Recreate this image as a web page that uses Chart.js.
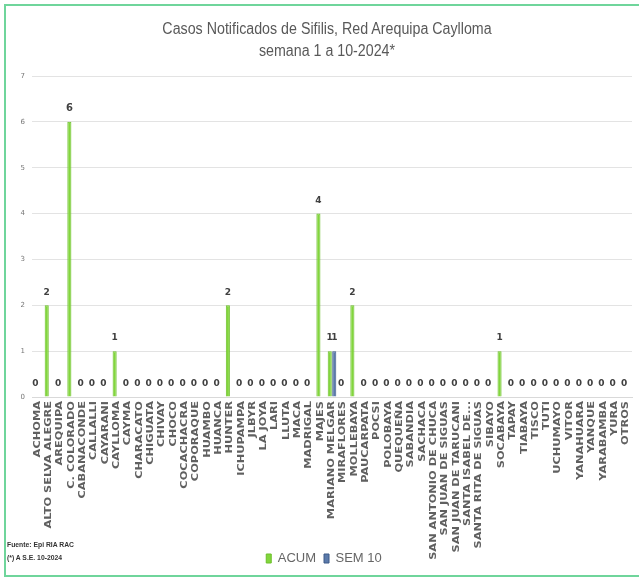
<!DOCTYPE html>
<html lang="es">
<head>
  <meta charset="UTF-8" />
  <title>Casos Notificados de Sifilis</title>
  <script src="https://cdn.jsdelivr.net/npm/chart.js"></script>
  <style>
    * { box-sizing: border-box; }
    body { margin: 0; background: #fff; }
    .frame {
      position: relative;
      width: 639px; height: 581px;
    }
    .border {
      position: absolute;
      left: 4px; top: 4px; right: 0; bottom: 4px;
      border: 2px solid #6fd59b;
      border-right: none;
      pointer-events: none;
    }
    canvas { position: absolute; left: 0; top: 0; }
    .title {
      position: absolute; left: 0; top: 18px; width: 654px;
      text-align: center;
      font-family: 'Liberation Sans', Arial, sans-serif;
      font-size: 16px; line-height: 22px; color: #595959;
      transform: scaleX(0.89);
      transform-origin: 327px 0;
    }
    .note {
      position: absolute; left: 7px;
      font-family: 'Liberation Sans', Arial, sans-serif;
      font-weight: bold; font-size: 8px; color: #333;
      transform: scaleX(0.85); transform-origin: 0 0;
    }
  </style>
</head>
<body>
<div class="frame">
  <canvas id="chart" width="639" height="581"></canvas>
  <div class="border"></div>
  <div class="title">Casos Notificados de Sifilis, Red Arequipa Caylloma<br>semana 1 a 10-2024*</div>
  <div class="note" style="top:540px">Fuente: Epi RIA RAC</div>
  <div class="note" style="top:553px">(*) A S.E. 10-2024</div>
</div>

<script>
  const distritos = [
    'ACHOMA', 'ALTO SELVA ALEGRE', 'AREQUIPA', 'C. COLORADO', 'CABANACONDE',
    'CALLALLI', 'CAYARANI', 'CAYLLOMA', 'CAYMA', 'CHARACATO', 'CHIGUATA',
    'CHIVAY', 'CHOCO', 'COCACHACRA', 'COPORAQUE', 'HUAMBO', 'HUANCA', 'HUNTER',
    'ICHUPAMPA', 'JLBYR', 'LA JOYA', 'LARI', 'LLUTA', 'MACA', 'MADRIGAL',
    'MAJES', 'MARIANO MELGAR', 'MIRAFLORES', 'MOLLEBAYA', 'PAUCARPATA', 'POCSI',
    'POLOBAYA', 'QUEQUEÑA', 'SABANDIA', 'SACHACA', 'SAN ANTONIO DE CHUCA',
    'SAN JUAN DE SIGUAS', 'SAN JUAN DE TARUCANI', 'SANTA ISABEL DE...',
    'SANTA RITA DE SIGUAS', 'SIBAYO', 'SOCABAYA', 'TAPAY', 'TIABAYA', 'TISCO',
    'TUTI', 'UCHUMAYO', 'VITOR', 'YANAHUARA', 'YANQUE', 'YARABAMBA', 'YURA', 'OTROS'
  ];
  const acum = [
    0, 2, 0, 6, 0, 0, 0, 1, 0, 0, 0, 0, 0, 0, 0, 0, 0, 2,
    0, 0, 0, 0, 0, 0, 0, 4, 1, 0, 2, 0, 0, 0, 0, 0, 0, 0,
    0, 0, 0, 0, 0, 1, 0, 0, 0, 0, 0, 0, 0, 0, 0, 0, 0
  ];
  const sem10 = [
    0, 0, 0, 0, 0, 0, 0, 0, 0, 0, 0, 0, 0, 0, 0, 0, 0, 0,
    0, 0, 0, 0, 0, 0, 0, 0, 1, 0, 0, 0, 0, 0, 0, 0, 0, 0,
    0, 0, 0, 0, 0, 0, 0, 0, 0, 0, 0, 0, 0, 0, 0, 0, 0
  ];
  const yTicks = [0, 1, 2, 3, 4, 5, 6, 7];

  // value labels over the bars (SEM 10 only when not zero)
  const barLabels = {
    id: 'barLabels',
    afterDatasetsDraw(chart) {
      const ctx = chart.ctx;
      ctx.save();
      ctx.fillStyle = '#404040';
      ctx.textAlign = 'center';
      ctx.textBaseline = 'middle';
      chart.data.datasets.forEach((ds, i) => {
        const meta = chart.getDatasetMeta(i);
        meta.data.forEach((bar, j) => {
          const v = ds.data[j];
          if (i === 1 && !v) return;
          ctx.font = 'bold ' + (v >= 6 ? 10 : 9) + 'px "DejaVu Sans"';
          ctx.fillText(String(v), bar.x, bar.y - 13);
        });
      });
      ctx.restore();
    }
  };

  // vertical category names, stretched along the text like the original
  const tallLabels = {
    id: 'tallLabels',
    afterDraw(chart) {
      const ctx = chart.ctx, xs = chart.scales.x;
      ctx.save();
      ctx.fillStyle = '#606060';
      ctx.font = 'bold 8px "DejaVu Sans"';
      ctx.textAlign = 'right';
      ctx.textBaseline = 'middle';
      chart.data.labels.forEach((lab, i) => {
        ctx.save();
        ctx.translate(xs.getPixelForTick(i), xs.top + 4);
        ctx.rotate(-Math.PI / 2);
        ctx.scale(1.42, 1);
        ctx.fillText(lab, 0, 0);
        ctx.restore();
      });
      ctx.restore();
    }
  };

  new Chart(document.getElementById('chart'), {
    type: 'bar',
    data: {
      labels: distritos,
      datasets: [
        { label: 'ACUM', data: acum, backgroundColor: '#82d63c', borderColor: '#6cbf2a', borderWidth: 1 },
        { label: 'SEM 10', data: sem10, backgroundColor: '#5b7aab', borderColor: '#3d5a88', borderWidth: 1 }
      ]
    },
    options: {
      responsive: false,
      animation: false,
      layout: { padding: { top: 76, left: 16, right: 7, bottom: 6 } },
      datasets: { bar: { categoryPercentage: 0.8, barPercentage: 0.9 } },
      plugins: {
        title: { display: false },
        legend: {
          position: 'bottom',
          labels: {
            color: '#666',
            boxWidth: 5, boxHeight: 9,
            padding: 8,
            font: { family: "'Liberation Sans', Arial, sans-serif", size: 13 }
          }
        },
        tooltip: { enabled: false }
      },
      scales: {
        x: {
          grid: { display: false, drawTicks: false },
          border: { color: '#d9d9d9' },
          ticks: { display: false, autoSkip: false },
          afterFit(scale) { scale.height = 147; }
        },
        y: {
          min: 0, max: 7,
          afterBuildTicks(scale) { scale.ticks = yTicks.map(v => ({ value: v })); },
          grid: { color: '#e3e3e3', drawTicks: false },
          border: { display: false },
          ticks: {
            padding: 7, color: '#777',
            font: { family: "'DejaVu Sans'", size: 7 }
          },
          afterFit(scale) { scale.width = 16; }
        }
      }
    },
    plugins: [barLabels, tallLabels]
  });
</script>
</body>
</html>
